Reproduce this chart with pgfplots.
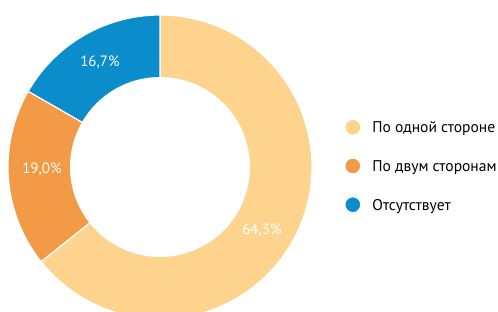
\documentclass[border=0pt]{standalone}
\usepackage{pgfplots}
\pgfplotsset{compat=1.18}
\usepackage{fontspec}
\setmainfont{PT Sans}
\definecolor{cA}{HTML}{FDD38E}
\definecolor{cB}{HTML}{F29A45}
\definecolor{cC}{HTML}{0A8DCA}
\begin{document}
\begin{tikzpicture}
% values (percent)
\def\vA{64.3}\def\vB{19.0}\def\vC{16.7}
\pgfmathsetmacro{\aA}{90}
\pgfmathsetmacro{\aB}{90-3.6*\vA}
\pgfmathsetmacro{\aC}{\aB-3.6*\vB}
\pgfmathsetmacro{\aD}{\aC-3.6*\vC}
\begin{axis}[
  x=1bp, y=1bp, scale only axis,
  xmin=0, xmax=498, ymin=0, ymax=311,
  hide axis, clip=true,
  legend style={at={(axis cs:344,145)}, anchor=west, draw=none, fill=none,
    row sep=21.5bp, inner sep=0pt, font=\fontsize{15.6}{17}\selectfont,
    nodes={inner sep=0pt, text depth=0pt}},
  legend cell align=left,
  legend image code/.code={\fill[#1] (8bp,0bp) circle (8bp); \path (0bp,0bp) (27bp,0bp);},
]
\addplot[fill=cA, draw=white, line width=1.2bp, domain=\aB:\aA, samples=120, variable=\t]
  ({160+152*cos(\t)}, {144+152*sin(\t)}) -- (axis cs:160,144) -- cycle;
\addplot[fill=cB, draw=white, line width=1.2bp, domain=\aC:\aB, samples=60, variable=\t]
  ({160+152*cos(\t)}, {144+152*sin(\t)}) -- (axis cs:160,144) -- cycle;
\addplot[fill=cC, draw=white, line width=1.2bp, domain=\aD:\aC, samples=60, variable=\t]
  ({160+152*cos(\t)}, {144+152*sin(\t)}) -- (axis cs:160,144) -- cycle;
\addplot[fill=white, draw=none, domain=0:360, samples=180, variable=\t]
  ({160+90*cos(\t)}, {144+90*sin(\t)}) -- cycle;
\legend{}
\addlegendimage{fill=cA}
\addlegendentry{По одной стороне}
\addlegendimage{fill=cB}
\addlegendentry{По двум сторонам}
\addlegendimage{fill=cC}
\addlegendentry{Отсутствует}
\node[white, font=\fontsize{15}{17}\selectfont] at (axis cs:262,81) {64,3\%};
\node[white, font=\fontsize{15}{17}\selectfont] at (axis cs:42,142) {19,0\%};
\node[white, font=\fontsize{15}{17}\selectfont] at (axis cs:100,249) {16,7\%};
\end{axis}
\pgfresetboundingbox
\path (current axis.south west) rectangle (current axis.north east);
\end{tikzpicture}
\end{document}
